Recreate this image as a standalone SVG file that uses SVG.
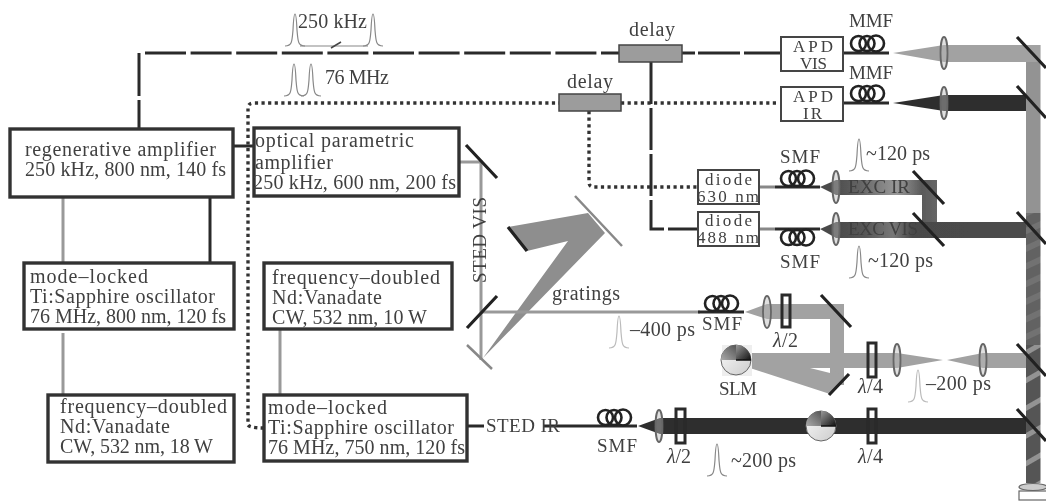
<svg xmlns="http://www.w3.org/2000/svg" width="1046" height="501" viewBox="0 0 1046 501">
<style>
text{font-family:"Liberation Serif","Times New Roman",serif;font-size:20px;fill:#404040}
text.c{font-size:19px}
text.d{font-size:17px}
.box{fill:#fff;stroke:#333;stroke-width:3.4}
.thin{fill:#fff;stroke:#444;stroke-width:2}
.del{fill:#9c9c9c;stroke:#444;stroke-width:1.5}
.k{fill:none;stroke:#2a2a2a;stroke-width:3}
.dash{fill:none;stroke:#2a2a2a;stroke-width:3}
.dot{fill:none;stroke:#333;stroke-width:3.4;stroke-dasharray:3.2 3.4}
.g{fill:none;stroke:#999;stroke-width:3}
.m{fill:none;stroke:#222;stroke-width:3.2}
.wp{fill:none;stroke:#2a2a2a;stroke-width:3}
.lens{fill:#bbb;fill-opacity:.45;stroke:#666;stroke-width:1.8}
.vis{fill:#a2a2a2}
.ir{fill:#2e2e2e}
.p{fill:none;stroke:#888;stroke-width:1.2}
</style>
<defs>
<filter id="soft" x="0" y="0" width="100%" height="100%"><feGaussianBlur stdDeviation="0.45"/></filter>
<g id="coil"><circle cx="7.5" cy="8.5" r="7.5" fill="none" stroke="#222" stroke-width="2.6"/><circle cx="16" cy="8.5" r="7.5" fill="none" stroke="#222" stroke-width="2.6"/><circle cx="25" cy="8.5" r="8" fill="none" stroke="#222" stroke-width="2.6"/></g>
<path id="pulse" d="M-10 32C-3 32-3 28-2 16C-1.500 5-1 0 0 0C1 0 1.500 5 2 16C3 28 3 32 10 32"/>
<linearGradient id="excir" x1="836" x2="937" y1="0" y2="0" gradientUnits="userSpaceOnUse"><stop offset="0" stop-color="#4c4c4c"/><stop offset=".25" stop-color="#666"/><stop offset=".6" stop-color="#999"/><stop offset=".85" stop-color="#5a5a5a"/><stop offset="1" stop-color="#666"/></linearGradient>
<linearGradient id="excvis" x1="836" x2="1026" y1="0" y2="0" gradientUnits="userSpaceOnUse"><stop offset="0" stop-color="#4a4a4a"/><stop offset=".15" stop-color="#555"/><stop offset=".3" stop-color="#777"/><stop offset=".4" stop-color="#4a4a4a"/><stop offset="1" stop-color="#4c4c4c"/></linearGradient>
<pattern id="st1" width="10" height="16" patternUnits="userSpaceOnUse" patternTransform="rotate(-25)"><rect width="10" height="16" fill="#626262"/><rect width="10" height="6" fill="#727272"/></pattern>
<pattern id="st2" width="14" height="24" patternUnits="userSpaceOnUse" patternTransform="rotate(-30)"><rect width="14" height="24" fill="#555"/><rect width="14" height="5" fill="#939393"/></pattern>
<linearGradient id="qd" x1="0" x2="1" y1="0" y2="1"><stop offset="0" stop-color="#999"/><stop offset="1" stop-color="#111"/></linearGradient>
<linearGradient id="ql" x1="0" x2="1" y1="1" y2="0"><stop offset="0" stop-color="#aaa"/><stop offset="1" stop-color="#555"/></linearGradient>
<linearGradient id="qw" x1="0" x2="1" y1="0" y2="1"><stop offset="0" stop-color="#fafafa"/><stop offset="1" stop-color="#ccc"/></linearGradient>
<g id="disk"><circle r="15" fill="url(#qw)" stroke="#666" stroke-width="1"/><path d="M0 0L-15 0A15 15 0 0 1 0-15Z" fill="url(#ql)"/><path d="M0 0L0-15A15 15 0 0 1 15 0Z" fill="url(#qd)"/><path d="M0 0H15" stroke="#111" stroke-width="1.500"/></g>
</defs>
<g filter="url(#soft)">
<rect width="1046" height="501" fill="#fff"/>

<g id="beams">
<rect x="1026" y="45" width="14.500" height="168" fill="#939393"/>
<rect x="1026" y="213" width="14.500" height="132" fill="url(#st1)"/>
<rect x="1026" y="345" width="14.500" height="138" fill="url(#st2)"/>
<path class="vis" d="M893 53L944 45H1040V62H944Z"/>
<path class="ir" d="M893 103L944 95H1026V111H944Z"/>
<path d="M820 187L836 180H937V230H922V195H836Z" fill="url(#excir)"/>
<path d="M820 229L836 222H1026V238H836Z" fill="url(#excvis)"/>
<path d="M508 227L588 213L605 233L483 358L568 241L527 251Z" fill="#8e8e8e"/>
<path class="vis" d="M745 312L767 304H844V385H830V319H767Z"/>
<path class="vis" d="M750 353H897L943 360L897 368H832L844 378L830 394L750 368Z"/>
<path d="M810 368L830 368L830 373Z" fill="#fff"/>
<path class="vis" d="M947 360L983 353H1026V368H983Z"/>
<path class="ir" d="M638 426L660 418H1026V434H660Z"/>
</g>

<g id="connectors">
<path class="dash" d="M139 53V128" stroke-dasharray="43 4"/>
<path class="dash" d="M145 53H620" stroke-dasharray="41 4.600"/>
<path class="dash" d="M682 53H695M698 53H740M744 53H781"/>
<path class="dash" d="M651 62V229H697" stroke-dasharray="42 4"/>
<path class="dot" d="M264 428Q250 428 248 425V108Q248 103 254 103H559"/>
<path class="dot" d="M621 103H778"/>
<path class="dot" d="M589 111V182Q589 187 594 187H698"/>
<path class="k" d="M233 146H254"/>
<path class="k" d="M210 197V263"/>
<path class="g" d="M63 197V263M63 333V395M280 329V395"/>
<path class="g" d="M459 162H481V360"/>
<path class="g" d="M481 312H700"/>
<path class="k" d="M843 53H889M843 103H889"/>
<path d="M759 187H775M759 229H775" stroke="#888" stroke-width="3" fill="none"/>
<path class="k" d="M775 187H820M775 229H820"/>
<path class="k" d="M698 312H744"/>
<path class="k" d="M467 426H484M543 426H637"/>
</g>

<g id="optics">
<path class="m" d="M1017 37L1046 68M1017 86L1046 118M1017 212L1046 244M1017 344L1046 376M1017 409L1046 441"/>
<path class="m" d="M913 171L944 204M913 213L944 246"/>
<path class="m" d="M466 145L497 178M467 328L497 296M508 227L527 251"/>
<path class="m" d="M821 295L851 327M829 395L849 374"/>
<path d="M467 345L492 369M575 196L622 246" fill="none" stroke="#888" stroke-width="2.500"/>
<ellipse class="lens" cx="944" cy="53" rx="3.500" ry="16"/>
<ellipse class="lens" cx="944" cy="103" rx="3.500" ry="16"/>
<ellipse class="lens" cx="836" cy="187" rx="3.500" ry="16"/>
<ellipse class="lens" cx="836" cy="229" rx="3.500" ry="16"/>
<ellipse class="lens" cx="767" cy="312" rx="4" ry="16"/>
<ellipse class="lens" cx="897" cy="360" rx="3.500" ry="16"/>
<ellipse class="lens" cx="983" cy="360" rx="3.500" ry="16"/>
<ellipse class="lens" cx="659" cy="426" rx="3.500" ry="16"/>
<rect class="wp" x="782" y="295" width="8" height="32"/>
<rect class="wp" x="868" y="343" width="8" height="34"/>
<rect class="wp" x="676" y="409" width="9" height="34"/>
<rect class="wp" x="868" y="409" width="8" height="34"/>
<rect x="722" y="345" width="30" height="31" fill="#eee"/>
<use href="#disk" x="736" y="360"/>
<use href="#disk" x="821" y="426"/>
<use href="#coil" x="851" y="35"/>
<use href="#coil" x="851" y="85"/>
<use href="#coil" x="781" y="170"/>
<use href="#coil" x="781" y="229"/>
<use href="#coil" x="705" y="295"/>
<use href="#coil" x="598" y="409"/>
<ellipse cx="1033" cy="487" rx="14" ry="3.500" fill="#ccc" stroke="#666" stroke-width="1.200"/>
<rect x="1019" y="491" width="30" height="9" fill="#fff" stroke="#666" stroke-width="1.200"/>
</g>

<g id="pulses">
<use href="#pulse" class="p" x="295" y="14"/>
<use href="#pulse" class="p" x="373" y="14"/>
<path class="p" d="M300 46H368"/>
<path d="M331 48L341 42" stroke="#444" stroke-width="1.500" fill="none"/>
<use href="#pulse" class="p" x="294" y="64"/>
<use href="#pulse" class="p" x="311" y="64"/>
<use href="#pulse" class="p" x="859" y="139"/>
<use href="#pulse" class="p" x="859" y="246"/>
<use href="#pulse" x="619" y="316" fill="none" stroke="#bbb" stroke-width="1.200"/>
<use href="#pulse" x="918" y="370" fill="none" stroke="#bbb" stroke-width="1.200"/>
<use href="#pulse" class="p" x="717" y="444"/>
</g>

<g id="regenerative-amplifier"><rect class="box" x="10" y="129" width="223" height="68"/>
<text x="25" y="156" textLength="191">regenerative amplifier</text><text x="25" y="176" textLength="201">250 kHz, 800 nm, 140 fs</text></g>
<g id="optical-parametric-amplifier"><rect class="box" x="254" y="128" width="205" height="68"/>
<text x="255" y="147" textLength="159">optical parametric</text><text x="255" y="169" textLength="78">amplifier</text><text x="253" y="189" textLength="203">250 kHz, 600 nm, 200 fs</text></g>
<g id="mode-locked-800"><rect class="box" x="24" y="263" width="210" height="66"/>
<text x="30" y="283" textLength="118">mode–locked</text><text x="30" y="303" textLength="185">Ti:Sapphire oscillator</text><text x="30" y="323" textLength="196">76 MHz, 800 nm, 120 fs</text></g>
<g id="frequency-doubled-10w"><rect class="box" x="264" y="263" width="188" height="66"/>
<text x="272" y="284" textLength="168">frequency–doubled</text><text x="272" y="304" textLength="110">Nd:Vanadate</text><text x="272" y="324" textLength="155">CW, 532 nm, 10 W</text></g>
<g id="frequency-doubled-18w"><rect class="box" x="48" y="395" width="186" height="67"/>
<text x="60" y="413" textLength="167">frequency–doubled</text><text x="60" y="433" textLength="110">Nd:Vanadate</text><text x="60" y="453" textLength="153">CW, 532 nm, 18 W</text></g>
<g id="mode-locked-750"><rect class="box" x="264" y="395" width="203" height="66"/>
<text x="268" y="414" textLength="119">mode–locked</text><text x="268" y="434" textLength="186">Ti:Sapphire oscillator</text><text x="268" y="454" textLength="197">76 MHz, 750 nm, 120 fs</text></g>
<g id="delay-vis"><rect class="del" x="619" y="45" width="63" height="17"/><text x="629" y="36" textLength="46">delay</text></g>
<g id="delay-ir"><rect class="del" x="559" y="94" width="62" height="17"/><text x="567" y="88" textLength="46">delay</text></g>
<g id="apd-vis"><rect class="thin" x="781" y="37" width="62" height="34"/><text class="d" x="793" y="52" textLength="40">APD</text><text class="d" x="800" y="69" textLength="27">VIS</text></g>
<g id="apd-ir"><rect class="thin" x="781" y="87" width="62" height="34"/><text class="d" x="793" y="102" textLength="40">APD</text><text class="d" x="803" y="119" textLength="19">IR</text></g>
<g id="diode-630"><rect class="thin" x="698" y="170" width="61" height="34"/><text class="d" x="705" y="185" textLength="47">diode</text><text class="d" x="697" y="202" textLength="62">630 nm</text></g>
<g id="diode-488"><rect class="thin" x="698" y="212" width="61" height="34"/><text class="d" x="705" y="226" textLength="47">diode</text><text class="d" x="697" y="243" textLength="62">488 nm</text></g>

<g id="labels">
<text x="298" y="28" textLength="69">250 kHz</text>
<text x="325" y="84" textLength="64">76 MHz</text>
<text class="c" x="849" y="27" textLength="44">MMF</text>
<text class="c" x="849" y="79" textLength="44">MMF</text>
<text class="c" x="780" y="163" textLength="40">SMF</text>
<text class="c" x="780" y="268" textLength="40">SMF</text>
<text class="c" x="702" y="330" textLength="40">SMF</text>
<text class="c" x="597" y="452" textLength="40">SMF</text>
<text x="866" y="160" textLength="64">~120 ps</text>
<text x="868" y="267" textLength="65">~120 ps</text>
<text x="630" y="336" textLength="65">–400 ps</text>
<text x="926" y="390" textLength="65">–200 ps</text>
<text x="731" y="467" textLength="65">~200 ps</text>
<text class="c" x="848" y="193" textLength="62">EXC IR</text>
<text class="c" x="848" y="235" textLength="70">EXC VIS</text>
<text x="552" y="300" textLength="68">gratings</text>
<text class="c" x="719" y="395" textLength="38">SLM</text>
<text x="773" y="347" textLength="25"><tspan font-style="italic">λ</tspan>/2</text>
<text x="858" y="393" textLength="25"><tspan font-style="italic">λ</tspan>/4</text>
<text x="667" y="463" textLength="24"><tspan font-style="italic">λ</tspan>/2</text>
<text x="858" y="463" textLength="25"><tspan font-style="italic">λ</tspan>/4</text>
<text x="486" y="432" textLength="74" class="c">STED IR</text>
<text transform="translate(486 283) rotate(-90)" textLength="86" class="c">STED VIS</text>
</g>
</g>
</svg>
